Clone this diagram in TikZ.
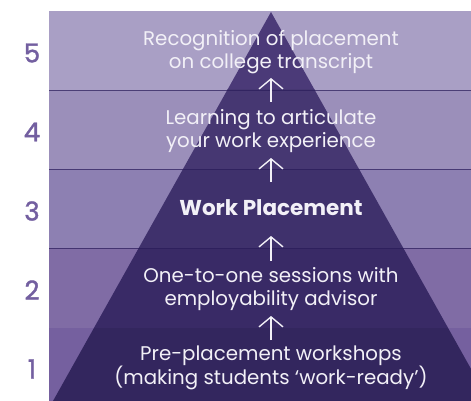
\documentclass[tikz,border=0pt]{standalone}
\usepackage{fontspec}
\setmainfont{Poppins}
\newfontfamily\levelfont[FakeBold=1.4]{Poppins}
\usetikzlibrary{arrows.meta}
\definecolor{bandv}{HTML}{A99FC5}
\definecolor{bandiv}{HTML}{9B8FBA}
\definecolor{bandiii}{HTML}{8D80B2}
\definecolor{bandii}{HTML}{806CA5}
\definecolor{bandi}{HTML}{75609F}
\definecolor{triv}{HTML}{4B3A78}
\definecolor{triiv}{HTML}{463772}
\definecolor{triiii}{HTML}{3F316C}
\definecolor{triii}{HTML}{392A66}
\definecolor{trii}{HTML}{33265E}
\definecolor{rule}{HTML}{2A1C5A}
\definecolor{levelnum}{HTML}{735FA0}
\definecolor{stagetext}{HTML}{F2F0F7}
\begin{document}
\begin{tikzpicture}[x=1pt,y=-1pt]
\tikzstyle{every node}+=[inner sep=0pt]
\tikzstyle{stage}=[text=stagetext,font=\fontsize{19.8}{23.5}\selectfont,align=center]
\tikzstyle{level}=[text=levelnum,font=\levelfont\fontsize{26}{26}\selectfont]
\tikzstyle{divider}=[draw=rule,opacity=0.7,line width=0.8pt]
\tikzstyle{uparrow}=[draw=stagetext,line width=1.4pt,-{Straight Barb[length=10pt,width=24pt,line width=1.4pt]}]
\useasboundingbox (0,0) rectangle (471,401);
% bands with the pyramid on top
\coordinate (apex) at (271,12);
\coordinate (bl) at (53,401);
\coordinate (br) at (489,401);
\foreach \top/\bot/\bg/\tri in {11/90/bandv/triv,90/169/bandiv/triiv,169/248/bandiii/triiii,248/328/bandii/triii,328/401/bandi/trii}{
  \fill [\bg] (49,\top) rectangle (471,\bot);
  \begin{scope}
    \clip (49,\top) rectangle (471,\bot);
    \fill [\tri] (apex) -- (bl) -- (br) -- cycle;
  \end{scope}
}
\foreach \y in {90,169,248}
  \draw [divider] (49,\y) -- (471,\y);
% level numbers
\node [level] (n5) at (32,53) {5};
\node [level] (n4) at (32,132) {4};
\node [level] (n3) at (32,211) {3};
\node [level] (n2) at (32,290) {2};
\node [level] (n1) at (32,369) {1};
% stages
\node [stage] (s5) at (271,52) {Recognition of placement\\on college transcript};
\node [stage] (s4) at (271,131) {Learning to articulate\\your work experience};
\node [stage,font=\fontsize{21.5}{23.5}\selectfont\bfseries] (s3) at (271,208) {Work Placement};
\node [stage] (s2) at (271,289) {One-to-one sessions with\\employability advisor};
\node [stage] (s1) at (271,368) {Pre-placement workshops\\(making students ‘work-ready’)};
% arrows
\coordinate (a1s) at (271,340); \coordinate (a1e) at (271,316);
\coordinate (a2s) at (271,261); \coordinate (a2e) at (271,236);
\coordinate (a3s) at (271,182); \coordinate (a3e) at (271,158);
\coordinate (a4s) at (271,102); \coordinate (a4e) at (271,78);
\draw [uparrow] (a1s) -- (a1e);
\draw [uparrow] (a2s) -- (a2e);
\draw [uparrow] (a3s) -- (a3e);
\draw [uparrow] (a4s) -- (a4e);
\end{tikzpicture}
\end{document}
